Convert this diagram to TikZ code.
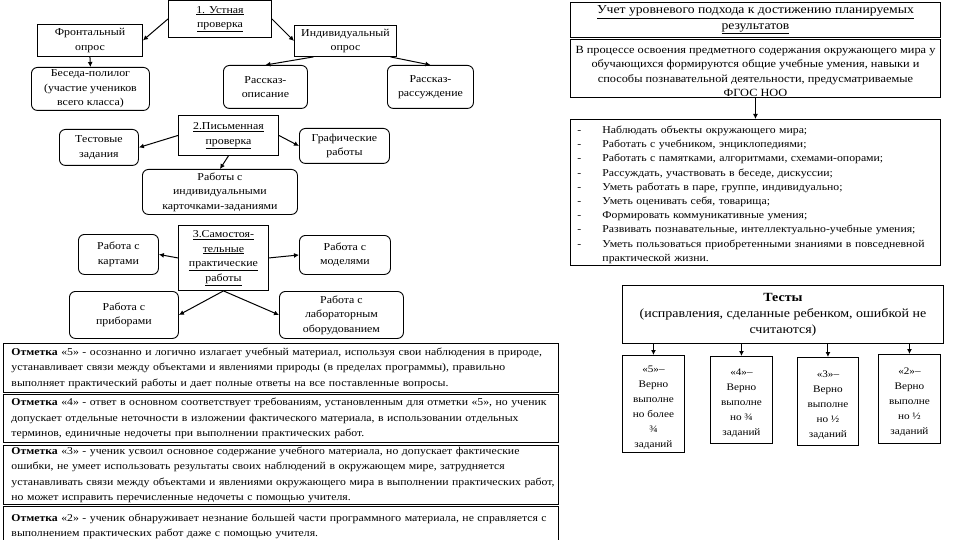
\documentclass[tikz,border=0pt]{standalone}
\usepackage{fontspec}
\setmainfont{Liberation Serif}[FakeStretch=1.12]
\usetikzlibrary{arrows.meta}
\begin{document}
\begin{tikzpicture}[x=1pt,y=-1pt,
  every node/.style={inner sep=0pt, font=\fontsize{10.6}{14.5}\selectfont},
  sbox/.style={draw, line width=0.9pt, align=center, anchor=north west},
  rbox/.style={draw, line width=0.9pt, rounded corners=6pt, align=center, anchor=north west},
  gbox/.style={draw, line width=0.9pt, align=left, anchor=north west, inner xsep=8pt, text width=539pt, font=\fontsize{10.5}{15.5}\selectfont},
  kbox/.style={draw, line width=0.9pt, align=center, anchor=north west, font=\fontsize{10}{15}\selectfont},
  arr/.style={-{Latex[length=5pt,width=5pt]}, line width=1pt},
]
\useasboundingbox (0,0) rectangle (960,540);
% --- section 1
\node[sbox, minimum width=103, minimum height=37] (oral) at (168,0) {\underline{1. Устная}\\\underline{проверка}};
\node[sbox, minimum width=105, minimum height=32] (front) at (37,24) {Фронтальный\\опрос};
\node[rbox, minimum width=118, minimum height=43] (beseda) at (31,67) {Беседа-полилог\\(участие учеников\\всего класса)};
\node[sbox, minimum width=102, minimum height=31] (indiv) at (294,25) {Индивидуальный\\опрос};
\node[rbox, minimum width=84, minimum height=43] (ropis) at (223,65) {Рассказ-\\описание};
\node[rbox, minimum width=86, minimum height=43] (rrass) at (387,65) {Рассказ-\\рассуждение};
\draw[arr] (oral.west) -- (front.east);
\draw[arr] (oral.east) -- (indiv.west);
\draw[arr] (front.south) -- (beseda.north);
\draw[arr] ([xshift=-32pt]indiv.south) -- (ropis.north);
\draw[arr] ([xshift=45pt]indiv.south) -- (rrass.north);
% --- section 2
\node[sbox, minimum width=100, minimum height=40] (writ) at (178,115) {\underline{2.Письменная}\\\underline{проверка}};
\node[rbox, minimum width=79, minimum height=36] (test) at (59,129) {Тестовые\\задания};
\node[rbox, minimum width=90, minimum height=35] (graph) at (299,128) {Графические\\работы};
\node[rbox, minimum width=155, minimum height=45] (cards) at (142,169) {Работы с\\индивидуальными\\карточками-заданиями};
\draw[arr] (writ.west) -- (test.east);
\draw[arr] (writ.east) -- (graph.west);
\draw[arr] (writ.south) -- (cards.north);
% --- section 3
\node[sbox, minimum width=90, minimum height=65] (indep) at (178,225) {\underline{3.Самостоя-}\\\underline{тельные}\\\underline{практические}\\\underline{работы}};
\node[rbox, minimum width=80, minimum height=40] (maps) at (78,234) {Работа с\\картами};
\node[rbox, minimum width=91, minimum height=39] (models) at (299,235) {Работа с\\моделями};
\node[rbox, minimum width=109, minimum height=47] (devices) at (69,291) {Работа с\\приборами};
\node[rbox, minimum width=124, minimum height=47] (lab) at (279,291) {Работа с\\лабораторным\\оборудованием};
\draw[arr] (indep.west) -- (maps.east);
\draw[arr] (indep.east) -- (models.west);
\draw[arr] (indep.south) -- (devices.east);
\draw[arr] (indep.south) -- (lab.west);
% --- grades
\node[gbox, minimum height=49] (m5) at (3,343) {\mbox{\textbf{Отметка} «5» - осознанно и логично излагает учебный материал, используя свои наблюдения в природе,}\\\mbox{устанавливает связи между объектами и явлениями природы (в пределах программы), правильно}\\\mbox{выполняет практический работы и дает полные ответы на все поставленные вопросы.}};
\node[gbox, minimum height=48] (m4) at (3,394) {\mbox{\textbf{Отметка} «4» - ответ в основном соответствует требованиям, установленным для отметки «5», но ученик}\\\mbox{допускает отдельные неточности в изложении фактического материала, в использовании отдельных}\\\mbox{терминов, единичные недочеты при выполнении практических работ.}};
\node[gbox, minimum height=59] (m3) at (3,445) {\mbox{\textbf{Отметка} «3» - ученик усвоил основное содержание учебного материала, но допускает фактические}\\\mbox{ошибки, не умеет использовать результаты своих наблюдений в окружающем мире, затрудняется}\\\mbox{устанавливать связи между объектами и явлениями окружающего мира в выполнении практических работ,}\\\mbox{но может исправить перечисленные недочеты с помощью учителя.}};
\node[gbox, minimum height=40] (m2) at (3,506) {\mbox{\textbf{Отметка} «2» - ученик обнаруживает незнание большей части программного материала, не справляется с}\\\mbox{выполнением практических работ даже с помощью учителя.}\\[4pt]};
% --- right side
\node[sbox, minimum width=370, minimum height=35, font=\fontsize{12.2}{15.5}\selectfont] (title) at (570,2) {\underline{Учет уровневого подхода к достижению планируемых}\\\underline{результатов}};
\node[sbox, minimum width=370, minimum height=58, font=\fontsize{11}{14.3}\selectfont] (proc) at (570,39) {\rule{0pt}{13pt}В процессе освоения предметного содержания окружающего мира у\\обучающихся формируются общие учебные умения, навыки и\\способы познавательной деятельности, предусматриваемые\\ФГОС НОО};
\node[draw, line width=0.9pt, anchor=north west, minimum width=370, minimum height=146, align=left, inner xsep=7pt, text width=356pt, font=\fontsize{10.5}{14.2}\selectfont] (list) at (570,119) {%
\rule{0pt}{12pt}\makebox[25pt][l]{-}Наблюдать объекты окружающего мира;\\
\makebox[25pt][l]{-}Работать с учебником, энциклопедиями;\\
\makebox[25pt][l]{-}Работать с памятками, алгоритмами, схемами-опорами;\\
\makebox[25pt][l]{-}Рассуждать, участвовать в беседе, дискуссии;\\
\makebox[25pt][l]{-}Уметь работать в паре, группе, индивидуально;\\
\makebox[25pt][l]{-}Уметь оценивать себя, товарища;\\
\makebox[25pt][l]{-}Формировать коммуникативные умения;\\
\makebox[25pt][l]{-}Развивать познавательные, интеллектуально-учебные умения;\\
\makebox[25pt][l]{-}Уметь пользоваться приобретенными знаниями в повседневной\\
\hspace*{25pt}практической жизни.};
\draw[arr] (proc.south) -- (list.north);
% --- tests
\node[sbox, minimum width=321, minimum height=58, font=\fontsize{12.5}{16}\selectfont] (tests) at (622,285) {\textbf{Тесты}\\(исправления, сделанные ребенком, ошибкой не\\считаются)};
\node[kbox, minimum width=62, minimum height=97] (k5) at (622,355) {\rule{0pt}{14pt}«5»–\\Верно\\выполне\\но более\\¾\\заданий};
\node[kbox, minimum width=62, minimum height=87] (k4) at (710,356) {\rule{0pt}{14pt}«4»–\\Верно\\выполне\\но ¾\\заданий};
\node[kbox, minimum width=61, minimum height=88] (k3) at (797,357) {\rule{0pt}{14pt}«3»–\\Верно\\выполне\\но ½\\заданий};
\node[kbox, minimum width=62, minimum height=89] (k2) at (878,354) {\rule{0pt}{14pt}«2»–\\Верно\\выполне\\но ½\\заданий};
\foreach \k in {k5,k4,k3,k2} \draw[arr] (\k.north |- tests.south) -- (\k.north);
\end{tikzpicture}
\end{document}
